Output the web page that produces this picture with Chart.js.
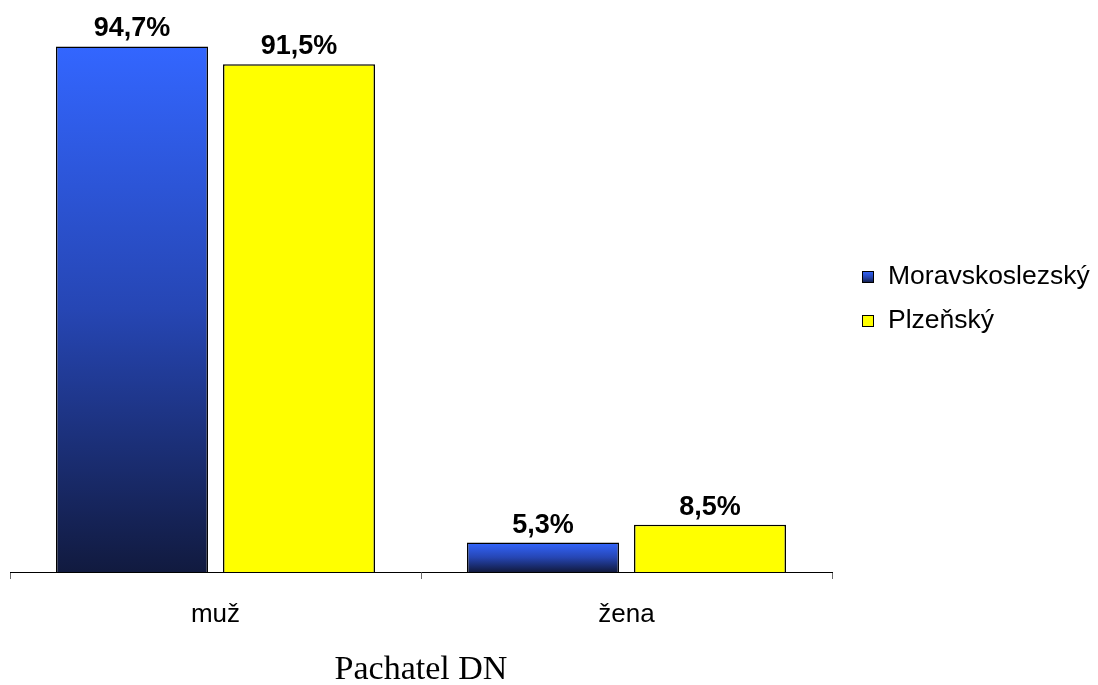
<!DOCTYPE html>
<html>
<head>
<meta charset="utf-8">
<script src="https://cdn.jsdelivr.net/npm/chart.js@4/dist/chart.umd.min.js"></script>
<style>
  html, body { margin: 0; padding: 0; background: #ffffff; }
  #wrap { width: 1098px; height: 685px; }
</style>
</head>
<body>
<div id="wrap"><canvas id="c" width="1098" height="685"></canvas></div>
<script>
// Share of offenders by sex, two regions
const categories = ['muž', 'žena'];
const seriesNames = ['Moravskoslezský', 'Plzeňský'];
const moravskoslezsky = [94.7, 5.3];
const plzensky = [91.5, 8.5];
const axisTitle = 'Pachatel DN';

const SANS = '"Liberation Sans", Arial, sans-serif';
const SERIF = '"Liberation Serif", "Times New Roman", serif';

// Vertical blue gradient spanning a single bar from its top to its base
function blueGradient(ctx2d, yTop, yBottom) {
  const g = ctx2d.createLinearGradient(0, yTop, 0, yBottom);
  g.addColorStop(0, '#3366ff');
  g.addColorStop(0.5, '#2646b4');
  g.addColorStop(1, '#111a3f');
  return g;
}

function barGradient(context) {
  const chart = context.chart;
  if (context.type !== 'data' || !chart.scales.y) return '#3366ff';
  const y = chart.scales.y;
  const top = y.getPixelForValue(context.parsed ? context.parsed.y : context.raw);
  const base = y.getPixelForValue(0);
  if (!isFinite(top) || !isFinite(base) || base - top < 1) return '#3366ff';
  return blueGradient(chart.ctx, top, base);
}

function fmt(v) {
  return v.toFixed(1).replace('.', ',') + '%';
}

// Value labels above each bar
const valueLabels = {
  id: 'valueLabels',
  afterDatasetsDraw(chart) {
    const ctx = chart.ctx;
    ctx.save();
    ctx.font = 'bold 27px ' + SANS;
    ctx.fillStyle = '#000';
    ctx.textAlign = 'center';
    ctx.textBaseline = 'alphabetic';
    chart.data.datasets.forEach((ds, di) => {
      const meta = chart.getDatasetMeta(di);
      meta.data.forEach((bar, i) => {
        ctx.fillText(fmt(ds.data[i]), bar.x, bar.y - 10);
      });
    });
    ctx.restore();
  }
};

// Legend at the right side
const sideLegend = {
  id: 'sideLegend',
  afterDraw(chart) {
    const ctx = chart.ctx;
    ctx.save();
    const x = 862, y0 = 271, step = 44, box = 12;
    chart.data.datasets.forEach((ds, i) => {
      const y = y0 + i * step;
      ctx.fillStyle = i === 0 ? blueGradient(ctx, y, y + box) : ds.backgroundColor;
      ctx.fillRect(x, y, box, box);
      ctx.strokeStyle = '#000';
      ctx.lineWidth = 1;
      ctx.strokeRect(x + 0.5, y + 0.5, box - 1, box - 1);
      ctx.fillStyle = '#000';
      ctx.font = '26.5px ' + SANS;
      ctx.textAlign = 'left';
      ctx.textBaseline = 'middle';
      ctx.fillText(ds.label, x + 26, y + box / 2);
    });
    ctx.restore();
  }
};

new Chart(document.getElementById('c'), {
  type: 'bar',
  data: {
    labels: categories,
    datasets: [
      {
        label: seriesNames[0],
        data: moravskoslezsky,
        backgroundColor: barGradient,
        borderColor: '#000',
        borderWidth: 1.5
      },
      {
        label: seriesNames[1],
        data: plzensky,
        backgroundColor: '#ffff00',
        borderColor: '#000',
        borderWidth: 1.5
      }
    ]
  },
  options: {
    responsive: false,
    animation: false,
    devicePixelRatio: 1,
    categoryPercentage: 0.8127,
    barPercentage: 0.91,
    layout: { padding: { left: 10, right: 266, top: 17, bottom: 0 } },
    plugins: {
      legend: { display: false },
      tooltip: { enabled: false }
    },
    scales: {
      y: { display: false, min: 0, max: 100 },
      x: {
        grid: {
          display: true,
          drawOnChartArea: false,
          drawTicks: true,
          tickLength: 7,
          color: '#6b6b6b',
          offset: true
        },
        border: { display: true, color: '#000', width: 1 },
        ticks: {
          color: '#000',
          font: { family: SANS, size: 26 },
          padding: 20
        },
        title: {
          display: true,
          text: axisTitle,
          color: '#000',
          font: { family: SERIF, size: 34 },
          padding: { top: 0, bottom: -5 }
        },
        afterFit(scale) { scale.height = 113; }
      }
    }
  },
  plugins: [valueLabels, sideLegend]
});
</script>
</body>
</html>
